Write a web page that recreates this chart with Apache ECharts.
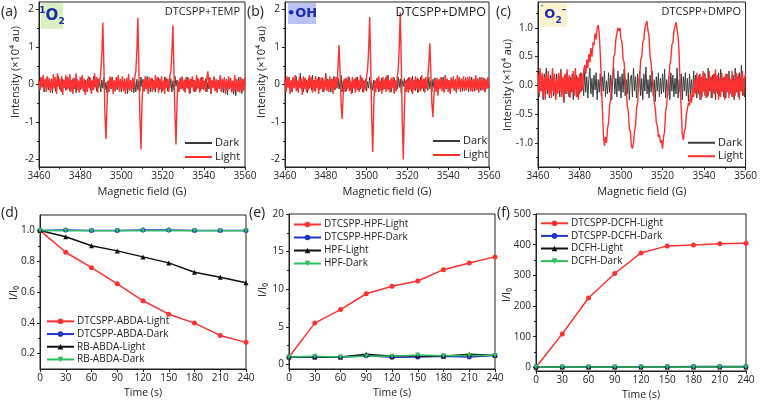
<!DOCTYPE html>
<html><head><meta charset="utf-8">
<script src="https://cdn.jsdelivr.net/npm/echarts@6/dist/echarts.min.js"></script>
<style>html,body{margin:0;padding:0;background:#fff}#c{width:760px;height:402px}</style>
</head><body><div id="c"></div>
<script>
// ---------- EPR spectra (x = 3460 + i * 0.5 G) ----------
const FIELD_START = 3460, FIELD_STEP = 0.5;

const aDark = [
 0.05,-0.12,0.18,-0.08,0.1,-0.2,0.12,-0.05,0.2,-0.15,
 0.08,-0.1,0.15,-0.22,0.05,0.12,-0.18,0.1,-0.06,0.22,
 -0.12,0.05,-0.2,0.15,-0.08,0.1,-0.15,0.2,-0.1,0.06,
 -0.18,0.12,-0.05,0.16,-0.12,0.08,-0.22,0.14,-0.06,0.1,
 -0.14,0.18,-0.08,0.06,-0.2,0.12,-0.1,0.15,-0.05,0.2,
 -0.16,0.08,-0.12,0.22,-0.06,0.1,-0.18,0.14,-0.08,0.05,
 -0.2,0.12,-0.1,0.18,-0.14,0.06,-0.22,0.1,-0.05,0.15,
 -0.12,0.2,-0.08,0.1,-0.18,0.06,-0.14,0.16,-0.1,0.12,
 -0.2,0.08,-0.06,0.15,-0.12,0.1,-0.24,0.05,-0.16,0.12,
 -0.1,0.18,-0.22,0.08,-0.2,0.14,-0.15,0.1,-0.18,0.2,
 -0.06,0.14,-0.18,0.1,-0.12,0.22,-0.08,0.12,-0.2,0.06,
 0.16,-0.1,0.08,-0.2,0.12,-0.06,0.18,-0.14,0.1,-0.22,
 0.05,-0.12,0.2,-0.08,0.14,-0.18,0.06,-0.1,0.16,-0.2,
 0.1,-0.15,0.22,-0.05,0.12,-0.2,0.08,-0.12,0.18,-0.1,
 0.06,-0.18,0.14,-0.08,0.2,-0.12,0.1,-0.22,0.15,-0.05,
 0.12,-0.2,0.08,-0.14,0.18,-0.1,0.05,-0.16,0.2,-0.12,
 0.1,-0.08,0.16,-0.2,0.06,-0.12,0.14,-0.24,0.1,-0.06,
 0.18,-0.14,0.08,-0.2,0.12,-0.1,0.2,-0.16,0.06,-0.22,
 0.1,-0.18,0.14,-0.28,0.08,-0.12,0.16,-0.2,0.05,-0.26,
 0.12,-0.3,0.1,-0.18,0.2,-0.14,0.06,-0.24,0.15,-0.1,
 0.05];
const aLight = [
 0.1,-0.15,0.2,-0.05,0.25,-0.12,0.15,-0.2,0.22,-0.08,
 0.18,-0.22,0.1,-0.15,0.28,-0.1,0.2,-0.25,0.3,-0.05,
 0.15,-0.18,0.22,-0.28,0.12,-0.1,0.25,-0.15,0.2,-0.12,
 0.28,-0.2,0.12,-0.25,0.18,-0.08,0.3,-0.15,0.1,-0.22,
 0.2,-0.12,0.25,-0.18,0.15,-0.28,0.1,-0.2,0.22,-0.1,
 0.18,-0.25,0.12,-0.15,0.3,-0.08,0.2,-0.22,0.15,0.05,
 0.35,0.8,1.65,0.5,-0.8,-1.45,-0.6,0.1,-0.2,0.22,
 -0.1,0.18,-0.25,0.12,-0.15,0.2,-0.08,0.25,-0.2,0.15,
 -0.12,0.22,-0.18,0.1,-0.25,0.18,-0.1,0.28,-0.15,0.12,
 -0.2,0.15,-0.1,0.2,0.35,0.9,1.78,0.4,-0.9,-1.73,
 -0.5,0.1,-0.18,0.22,-0.12,0.15,-0.25,0.2,-0.08,0.18,
 -0.2,0.12,-0.15,0.25,-0.1,0.2,-0.22,0.15,-0.12,0.22,
 -0.18,0.1,-0.25,0.2,-0.1,0.15,-0.2,0.25,0.35,0.85,
 1.58,0.4,-0.8,-1.6,-0.5,0.1,-0.2,0.18,-0.12,0.22,
 -0.15,0.12,-0.22,0.2,-0.1,0.18,-0.25,0.15,-0.08,0.22,
 -0.18,0.12,-0.2,0.25,-0.1,0.15,-0.22,0.18,-0.12,0.2,
 -0.15,0.1,-0.2,0.18,0.35,-0.05,0.2,-0.25,0.12,-0.1,
 0.22,-0.18,0.15,-0.22,0.1,-0.12,0.25,-0.2,0.15,-0.08,
 0.2,-0.25,0.12,-0.15,0.22,-0.1,0.18,-0.22,0.1,-0.18,
 0.25,-0.12,0.15,-0.2,0.1,-0.22,0.2,-0.15,0.12,-0.18,
 0.2];

const bDark = [
 0.1,-0.18,0.15,-0.05,0.2,-0.12,0.08,-0.2,0.18,-0.1,
 0.05,0.22,-0.15,0.1,-0.08,0.3,-0.12,0.06,-0.2,0.15,
 -0.05,0.12,-0.22,0.18,-0.1,0.08,-0.15,0.25,-0.08,0.12,
 -0.18,0.1,-0.05,0.2,-0.14,0.06,-0.1,0.18,-0.2,0.08,
 0.3,-0.12,0.15,-0.06,0.1,-0.2,0.14,-0.08,0.22,-0.15,
 0.05,-0.1,0.18,-0.12,0.08,0.25,-0.2,0.1,-0.06,0.15,
 -0.18,0.12,-0.08,0.2,-0.14,0.05,-0.22,0.1,-0.1,0.16,
 -0.05,0.2,-0.15,0.08,-0.12,0.18,-0.2,0.1,-0.06,0.14,
 -0.18,0.08,-0.1,0.2,-0.12,0.06,-0.16,0.12,-0.22,0.1,
 -0.08,0.15,-0.2,0.1,-0.05,0.18,-0.15,0.08,-0.12,0.2,
 -0.1,0.25,-0.14,0.08,-0.2,0.12,-0.06,0.18,-0.16,0.1,
 -0.12,0.2,-0.08,0.15,-0.22,0.1,-0.05,0.16,-0.18,0.12,
 -0.1,0.18,-0.14,0.06,-0.2,0.22,-0.08,0.12,-0.16,0.1,
 -0.22,0.14,-0.06,0.2,-0.12,0.08,-0.18,0.15,-0.1,0.05,
 -0.16,0.2,-0.12,0.1,-0.2,0.14,-0.08,0.18,-0.14,0.06,
 -0.2,0.12,-0.1,0.16,-0.06,0.2,-0.18,0.1,-0.12,0.15,
 -0.08,0.12,-0.2,0.18,-0.1,0.06,-0.16,0.14,-0.22,0.1,
 -0.12,0.2,-0.06,0.15,-0.18,0.1,-0.14,0.18,-0.1,0.08,
 -0.2,0.15,-0.12,0.2,-0.08,0.12,-0.18,0.1,-0.14,0.16,
 -0.1,0.2,-0.16,0.08,-0.12,0.18,-0.2,0.12,-0.08,0.15,
 -0.1];
const bLight = [
 0.15,-0.2,0.22,-0.1,0.18,-0.25,0.12,-0.15,0.2,-0.08,
 0.25,-0.18,0.1,-0.22,0.2,-0.1,0.15,-0.28,0.22,-0.12,
 0.18,-0.2,0.1,-0.15,0.25,-0.08,0.2,-0.22,0.12,-0.18,
 0.22,-0.1,0.15,-0.25,0.2,-0.12,0.18,-0.2,0.1,-0.15,
 0.25,-0.18,0.12,-0.2,0.22,-0.1,0.15,-0.25,0.18,-0.12,
 0.2,-0.1,0.5,1.05,0.3,-0.5,-0.92,-0.3,0.15,-0.2,
 0.18,-0.12,0.22,-0.18,0.1,-0.25,0.2,-0.1,0.15,-0.22,
 0.2,-0.15,0.12,-0.2,0.25,-0.08,0.18,-0.22,0.1,-0.15,
 0.22,0.4,0.9,1.8,0.6,-0.9,-1.8,-0.6,0.1,-0.2,
 0.18,-0.12,0.22,-0.18,0.1,-0.25,0.2,-0.1,0.15,-0.2,
 0.25,-0.15,0.12,-0.22,0.18,-0.1,0.2,-0.25,0.12,-0.18,
 0.2,0.4,1.0,1.92,0.6,-1.0,-2.0,-0.7,0.1,-0.2,
 0.15,-0.22,0.2,-0.12,0.18,-0.25,0.1,-0.15,0.22,-0.1,
 0.18,-0.2,0.12,-0.18,0.25,-0.1,0.15,-0.22,0.2,-0.12,
 0.2,0.55,1.1,0.3,-0.5,-0.87,-0.3,0.12,-0.2,0.18,
 -0.3,0.15,-0.12,0.2,-0.18,0.1,-0.22,0.25,-0.1,0.15,
 -0.2,0.12,-0.25,0.18,-0.1,0.22,-0.15,0.1,-0.2,0.25,
 -0.12,0.18,-0.2,0.15,-0.1,0.22,-0.18,0.12,-0.15,0.2,
 -0.1,0.22,-0.18,0.12,-0.2,0.15,-0.12,0.25,-0.15,0.1,
 -0.22,0.18,-0.1,0.2,-0.15,0.12,-0.2,0.15,-0.12,0.2,
 -0.1];

const cDark = [
 0.1,-0.2,0.25,-0.1,0.15,-0.25,0.2,-0.05,0.3,-0.15,
 0.12,-0.22,0.18,-0.1,0.25,-0.18,0.08,-0.25,0.2,-0.12,
 0.15,-0.2,0.28,-0.08,0.12,-0.3,0.18,-0.15,0.22,-0.1,
 -0.2,0.15,-0.12,0.2,-0.25,0.1,-0.05,0.18,-0.2,0.12,
 -0.15,0.22,-0.1,0.08,-0.18,0.25,-0.12,0.15,-0.22,0.1,
 0.3,-0.15,0.12,-0.2,0.18,-0.08,0.22,-0.25,0.1,-0.12,
 0.2,-0.18,0.15,-0.1,0.25,-0.2,0.08,-0.15,0.22,-0.12,
 0.18,-0.25,0.1,0.3,-0.15,0.12,-0.2,0.25,-0.1,0.15,
 -0.22,0.2,-0.12,0.28,-0.18,0.1,-0.15,0.22,-0.25,0.12,
 0.18,-0.2,0.3,-0.1,0.15,-0.22,0.2,-0.12,0.25,-0.18,
 0.12,-0.25,0.2,-0.1,0.32,-0.15,0.1,-0.22,0.18,-0.12,
 0.25,-0.18,0.1,-0.28,0.15,-0.1,0.22,-0.2,0.12,-0.15,
 0.2,-0.12,0.28,-0.22,0.1,-0.18,0.15,-0.25,0.22,-0.1,
 0.18,-0.2,0.12,-0.15,0.3,-0.22,0.1,-0.12,0.2,-0.25,
 0.15,-0.1,0.22,-0.18,0.12,-0.28,0.2,-0.15,0.1,-0.2,
 0.25,-0.12,0.18,-0.22,0.1,-0.15,0.2,-0.25,0.15,-0.1,
 0.22,-0.18,0.12,-0.2,0.3,-0.1,0.15,-0.22,0.18,-0.12,
 0.2,-0.25,0.1,-0.15,0.22,-0.18,0.28,-0.1,0.12,-0.2,
 0.15,-0.22,0.2,-0.12,0.25,-0.15,0.1,-0.2,0.18,-0.25,
 0.3,-0.12,0.15,-0.2,0.22,-0.1,0.35,-0.18,0.12,-0.2,
 0.25];
const cLight = [
 0.2,-0.15,0.3,-0.1,0.22,-0.2,0.15,-0.25,0.18,-0.08,
 0.25,-0.18,0.12,-0.22,0.3,-0.12,0.2,-0.25,0.1,-0.15,
 0.22,-0.1,0.25,-0.2,0.15,-0.28,0.2,-0.12,0.28,-0.15,
 0.18,-0.22,0.12,-0.1,0.25,-0.18,0.3,-0.2,0.15,-0.25,
 0.2,-0.12,0.22,-0.08,0.25,0.35,0.2,0.45,0.3,0.55,
 0.4,0.65,0.5,0.75,0.7,0.9,0.8,1.0,1.05,0.9,
 0.55,0.1,-0.4,-0.85,-1.05,-0.9,-1.0,-0.75,-0.65,-0.35,
 -0.25,0.1,0.15,0.5,0.55,0.8,0.8,1.0,0.95,1.0,
 0.8,0.75,0.45,0.4,0.1,-0.05,-0.35,-0.45,-0.75,-0.8,
 -1.05,-1.1,-1.0,-0.8,-0.7,-0.4,-0.3,0.05,0.15,0.45,
 0.5,0.75,0.8,1.0,1.0,1.12,0.95,0.85,0.5,0.4,
 0.1,0.0,-0.3,-0.4,-0.65,-0.7,-0.9,-0.85,-1.0,-0.95,
 -1.1,-0.9,-0.8,-0.45,-0.35,-0.05,0.1,0.35,0.45,0.7,
 0.75,0.95,0.95,1.1,1.12,0.85,0.55,-0.05,-0.4,-0.85,
 -0.95,-0.8,-0.75,-0.5,-0.5,-0.3,-0.35,-0.15,-0.3,-0.05,
 -0.2,0.1,-0.15,0.22,-0.1,0.18,-0.25,0.15,-0.2,0.25,
 -0.12,0.2,-0.22,0.1,-0.18,0.25,-0.1,0.15,-0.22,0.2,
 -0.15,0.28,-0.1,0.18,-0.25,0.12,-0.2,0.22,-0.12,0.15,
 -0.25,0.2,-0.1,0.18,-0.22,0.12,-0.15,0.25,-0.2,0.1,
 -0.18,0.22,-0.12,0.2,-0.25,0.15,-0.1,0.25,-0.18,0.12,
 0.2];

// ---------- Time-course data ----------
const times = [0, 30, 60, 90, 120, 150, 180, 210, 240];
const dDtcLight = [1.0,0.858,0.758,0.653,0.543,0.456,0.398,0.318,0.273];
const dDtcDark  = [1.0,1.002,1.0,1.0,1.002,1.003,1.0,1.0,1.0];
const dRbLight  = [1.0,0.959,0.90,0.867,0.828,0.789,0.728,0.696,0.66];
const dRbDark   = [1.0,0.998,0.998,0.998,0.998,0.998,0.997,0.997,0.997];

const eDtcLight = [1.0,5.5,7.3,9.4,10.4,11.1,12.6,13.5,14.3];
const eDtcDark  = [1.0,1.0,0.95,1.15,0.95,1.0,1.1,1.0,1.2];
const eHpfLight = [1.0,1.0,1.0,1.35,1.1,1.15,1.1,1.35,1.2];
const eHpfDark  = [1.0,1.1,1.0,1.1,1.1,1.25,1.15,1.2,1.2];

const fDtcLight = [0,109,226,306,373,396,399,403,405];
const fDtcDark  = [1,1,1,1,2,2,3,3,3];
const fDcfhLight= [1,1,1,1,1,1,1,1,1];
const fDcfhDark = [1,1,1,1,1,1,1,1,1];

// tick labels (values where labels sit)
const yTicksAB = [-2,-1,0,1,2];
const yTicksC = [-1,-0.5,0,0.5,1];
const yTicksD = [0.2,0.4,0.6,0.8,1.0];
const yTicksE = [0,5,10,15,20];
const yTicksF = [0,100,200,300,400,500];
const yMinorAB = [-1.5,-0.5,0.5,1.5];

const FONT = '"Open Sans","Noto Sans","DejaVu Sans",sans-serif';
const INK = '#222';
const RED = '#ff3030', DARK = '#3c3c3c', BLUE = '#2233cc', BLACK = '#111', GREEN = '#2fbf5f';

const grids = [
  {left:39, top:2, width:206, height:165},
  {left:285, top:2, width:204, height:165},
  {left:538, top:2, width:209, height:165},
  {left:40, top:215, width:206, height:154},
  {left:289, top:214, width:206, height:155},
  {left:536, top:214, width:210, height:157}
].map(g => Object.assign({show:true, borderColor:INK, borderWidth:1, backgroundColor:'transparent'}, g));

function xAx(gi, min, max, interval, name, minor, nameSize) {
  return {type:'value', gridIndex:gi, min, max, interval,
    axisLine:{show:true, onZero:false, lineStyle:{color:INK, width:1}},
    axisTick:{show:true, length:3, lineStyle:{color:INK}},
    minorTick:{show:minor, splitNumber:2, length:2, lineStyle:{color:INK}},
    splitLine:{show:false}, minorSplitLine:{show:false},
    axisLabel:{fontSize:10, color:INK, margin:4, fontFamily:FONT, formatter: v => String(v)},
    name, nameLocation:'middle', nameGap:19,
    nameTextStyle:{fontSize:nameSize, color:INK, fontFamily:FONT}};
}
function yAx(gi, min, max, ticks, fmt) {
  return {type:'value', gridIndex:gi, min, max,
    axisLine:{show:true, onZero:false, lineStyle:{color:INK, width:1}},
    axisTick:{show:true, length:3, customValues:ticks, lineStyle:{color:INK}},
    splitLine:{show:false},
    axisLabel:{fontSize:10, color:INK, margin:5, fontFamily:FONT, customValues:ticks, formatter:fmt}};
}
function yMinor(gi, min, max, ticks) {
  return {type:'value', gridIndex:gi, min, max, position:'left',
    axisLine:{show:false}, splitLine:{show:false},
    axisTick:{show:true, length:2, customValues:ticks, lineStyle:{color:INK}},
    axisLabel:{show:false, customValues:ticks}};
}
const fmtInt = v => String(Math.round(v));
const fmt1 = v => (Math.abs(v) < 1e-6 ? 0 : v).toFixed(1);

const xAxes = [
  xAx(0, 3460, 3560, 20, 'Magnetic field (G)', true, 11),
  xAx(1, 3460, 3560, 20, 'Magnetic field (G)', true, 11),
  xAx(2, 3460, 3560, 20, 'Magnetic field (G)', true, 11),
  xAx(3, 0, 240, 30, 'Time (s)', false, 10.5),
  xAx(4, 0, 240, 30, 'Time (s)', false, 10.5),
  xAx(5, 0, 240, 30, 'Time (s)', false, 10.5)
];
const yAxes = [
  yAx(0, -2.2, 2.2, yTicksAB, fmtInt),
  yAx(1, -2.2, 2.2, yTicksAB, fmtInt),
  yAx(2, -1.42, 1.45, yTicksC, fmt1),
  yAx(3, 0.1, 1.1, yTicksD, fmt1),
  yAx(4, -0.6, 20, yTicksE, fmtInt),
  yAx(5, -12, 500, yTicksF, fmtInt),
  yMinor(0, -2.2, 2.2, yMinorAB),
  yMinor(1, -2.2, 2.2, yMinorAB),
  yMinor(2, -1.42, 1.45, [-1.25,-0.75,-0.25,0.25,0.75,1.25]),
  yMinor(3, 0.1, 1.1, [0.3,0.5,0.7,0.9]),
  yMinor(4, -0.6, 20, [2.5,7.5,12.5,17.5]),
  yMinor(5, -12, 500, [50,150,250,350,450])
];

function spec(gi, name, arr, color, w) {
  return {type:'line', name, xAxisIndex:gi, yAxisIndex:gi, symbol:'none', silent:true,
    data: arr.map((v, i) => [FIELD_START + i * FIELD_STEP, v]),
    lineStyle:{color, width:w}, itemStyle:{color}};
}
function tc(gi, name, arr, color, symbol, rot) {
  return {type:'line', name, xAxisIndex:gi, yAxisIndex:gi, symbol, symbolSize:5,
    symbolRotate:rot || 0, showAllSymbol:true,
    data: arr.map((v, i) => [times[i], v]),
    lineStyle:{color, width:1.5}, itemStyle:{color}};
}

const series = [
  spec(0, 'Dark', aDark, DARK, 1), spec(0, 'Light', aLight, RED, 1.4),
  spec(1, 'Dark', bDark, DARK, 1), spec(1, 'Light', bLight, RED, 1.4),
  spec(2, 'Dark', cDark, DARK, 1), spec(2, 'Light', cLight, RED, 1.4),
  tc(3, 'DTCSPP-ABDA-Light', dDtcLight, RED, 'circle'),
  tc(3, 'DTCSPP-ABDA-Dark', dDtcDark, BLUE, 'circle'),
  tc(3, 'RB-ABDA-Light', dRbLight, BLACK, 'triangle'),
  tc(3, 'RB-ABDA-Dark', dRbDark, GREEN, 'triangle', 180),
  tc(4, 'DTCSPP-HPF-Light', eDtcLight, RED, 'circle'),
  tc(4, 'DTCSPP-HPF-Dark', eDtcDark, BLUE, 'circle'),
  tc(4, 'HPF-Light', eHpfLight, BLACK, 'triangle'),
  tc(4, 'HPF-Dark', eHpfDark, GREEN, 'triangle', 180),
  tc(5, 'DTCSPP-DCFH-Light', fDtcLight, RED, 'circle'),
  tc(5, 'DTCSPP-DCFH-Dark', fDtcDark, BLUE, 'circle'),
  tc(5, 'DCFH-Light', fDcfhLight, BLACK, 'triangle'),
  tc(5, 'DCFH-Dark', fDcfhDark, GREEN, 'triangle', 180)
];

function leg(left, top, names, size, lh, ih, icon) {
  return {left, top, orient:'vertical', padding:0, itemGap:0, itemWidth:27, itemHeight:ih,
    selectedMode:false, data: icon ? names.map(n => ({name:n, icon})) : names,
    textStyle:{fontSize:size, color:INK, fontFamily:FONT, lineHeight:lh, padding:[0,0,0,-2]}};
}
const legends = [
  leg(185, 136, ['Dark','Light'], 11, 14, 2, 'rect'),
  leg(433, 134, ['Dark','Light'], 11, 14, 2, 'rect'),
  leg(688, 136, ['Dark','Light'], 11, 13.5, 2, 'rect'),
  leg(46, 315, ['DTCSPP-ABDA-Light','DTCSPP-ABDA-Dark','RB-ABDA-Light','RB-ABDA-Dark'], 10, 12.7, 7),
  leg(293, 218, ['DTCSPP-HPF-Light','DTCSPP-HPF-Dark','HPF-Light','HPF-Dark'], 10, 13, 7),
  leg(540, 217, ['DTCSPP-DCFH-Light','DTCSPP-DCFH-Dark','DCFH-Light','DCFH-Dark'], 10, 12.6, 7)
];

function txt(x, y, text, size, opts) {
  opts = opts || {};
  return {type:'text', x, y, rotation:opts.rot || 0, z:100,
    style:{text, fontSize:size, fontFamily:opts.family || FONT, fontWeight:opts.weight || 'normal',
      fill:opts.fill || INK, align:opts.align || 'left', verticalAlign:'middle',
      textAlign:opts.align || 'left', textVerticalAlign:'middle', rich:opts.rich}};
}
const BADGE_INK = '#1c2aa6';
const badgeRich = {
  sup:{fontSize:9, fontWeight:'bold', fill:BADGE_INK, color:BADGE_INK, lineHeight:9, verticalAlign:'top', fontFamily:'"DejaVu Sans",sans-serif'},
  m:{fontSize:15, fontWeight:'bold', fill:BADGE_INK, color:BADGE_INK, lineHeight:20, fontFamily:'"DejaVu Sans",sans-serif'},
  sub:{fontSize:9, fontWeight:'bold', fill:BADGE_INK, color:BADGE_INK, lineHeight:9, verticalAlign:'bottom', fontFamily:'"DejaVu Sans",sans-serif'}
};
const graphics = [
  {type:'rect', z:50, shape:{x:41, y:3, width:22, height:26}, style:{fill:'#d8efc2'}},
  {type:'rect', z:50, shape:{x:288, y:3, width:28, height:21}, style:{fill:'#b9c2f2'}},
  {type:'rect', z:50, shape:{x:540, y:3, width:27, height:24}, style:{fill:'#fbf2cf'}},
  txt(52, 16, '{sup|1}{m|O}{sub|2}', 15, {align:'center', rich:badgeRich, fill:BADGE_INK}),
  txt(302, 14, '•OH', 13, {weight:'bold', fill:BADGE_INK, align:'center', family:'"DejaVu Sans",sans-serif'}),
  txt(553, 15, '{sup|˙}{m|O}{sub|2}{sup|–}', 13, {align:'center', rich:Object.assign({}, badgeRich, {m:Object.assign({}, badgeRich.m, {fontSize:13})}), fill:BADGE_INK}),
  txt(240, 12, 'DTCSPP+TEMP', 11, {align:'right'}),
  txt(486, 12, 'DTCSPP+DMPO', 12.5, {align:'right'}),
  txt(741, 12, 'DTCSPP+DMPO', 11, {align:'right'}),
  txt(1, 12, '(a)', 14), txt(247, 12, '(b)', 14), txt(496, 12, '(c)', 14),
  txt(1, 213, '(d)', 14), txt(249, 213, '(e)', 14), txt(497, 213, '(f)', 14),
  txt(16, 72, 'Intensity (×10⁴ au)', 11, {align:'center', rot:Math.PI/2}),
  txt(262, 72, 'Intensity (×10⁴ au)', 11, {align:'center', rot:Math.PI/2}),
  txt(508, 85, 'Intensity (×10⁴ au)', 11, {align:'center', rot:Math.PI/2}),
  txt(14, 293, 'I/I₀', 11, {align:'center', rot:Math.PI/2}),
  txt(263, 290, 'I/I₀', 11, {align:'center', rot:Math.PI/2}),
  txt(507, 295, 'I/I₀', 11, {align:'center', rot:Math.PI/2})
];

const chart = echarts.init(document.getElementById('c'), null, {renderer:'canvas'});
chart.setOption({
  animation:false,
  backgroundColor:'#fff',
  textStyle:{fontFamily:FONT},
  grid:grids, xAxis:xAxes, yAxis:yAxes, series, legend:legends, graphic:graphics
});
</script></body></html>
